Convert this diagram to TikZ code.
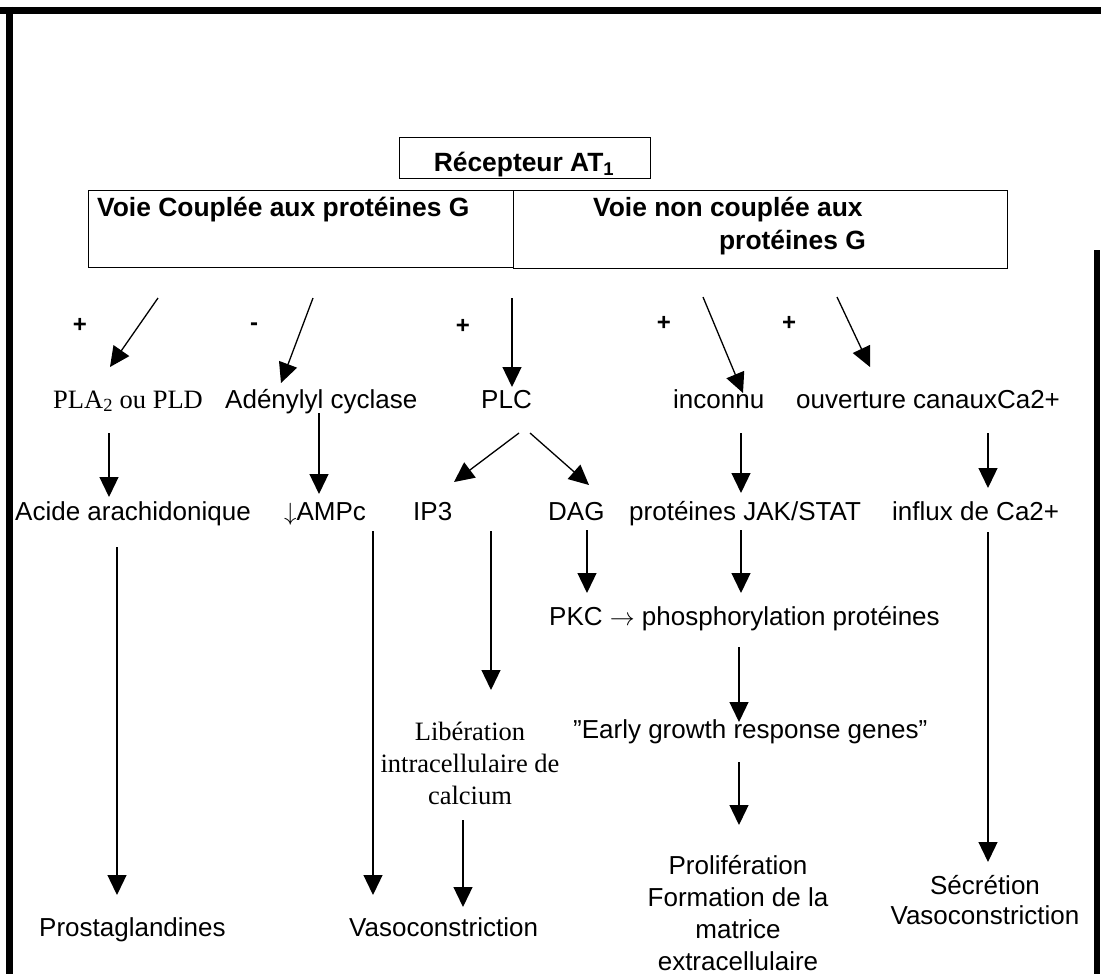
\documentclass[tikz,border=0pt]{standalone}
\usepackage{fontspec}
\setmainfont{Liberation Sans}
\newfontfamily\tnr{Liberation Serif}
\usetikzlibrary{arrows.meta}
\begin{document}
\begin{tikzpicture}[x=1pt,y=-1pt,
  txt/.style={inner sep=0pt, font=\fontsize{26}{32}\selectfont},
  btxt/.style={inner sep=0pt, font=\fontsize{26.4}{33}\selectfont\bfseries},
  sgn/.style={inner sep=0pt, font=\fontsize{24}{28}\selectfont\bfseries},
  ser/.style={inner sep=0pt, font=\tnr\fontsize{26.5}{32}\selectfont},
  arr/.style={line width=1.3pt, -{Triangle[length=20pt,width=19pt]}},
  boxnode/.style={draw, line width=1.4pt, inner sep=0pt, anchor=north west},
  frameline/.style={line width=6.5pt}]
\useasboundingbox (0,0) rectangle (1101,974);
% frame
\draw[frameline] (0,10.5) -- (1101,10.5);
\draw[frameline] (9.3,7) -- (9.3,974);
\draw[frameline] (1097,250) -- (1097,974);

% header boxes
\node[boxnode, minimum width=251pt, minimum height=41pt] (recbox) at (399,137) {};
\node[btxt, anchor=base] (rec) at (524,171) {Récepteur AT\textsubscript{1}};
\node[boxnode, minimum width=425pt, minimum height=77pt] (lbox) at (88,190) {};
\node[boxnode, minimum width=494pt, minimum height=78pt] (rbox) at (513,190) {};
\node[btxt, anchor=base west] (vc) at (97,216) {Voie Couplée aux protéines G};
\node[btxt, anchor=base west] (vnc1) at (593,216) {Voie non couplée aux};
\node[btxt, anchor=base east] (vnc2) at (866,249) {protéines G};

% signs
\node[sgn] (s1) at (80,325) {+};
\node[sgn] (s2) at (254,327) {-};
\node[sgn] (s3) at (463,326) {+};
\node[sgn] (s4) at (664,323) {+};
\node[sgn] (s5) at (789,323) {+};

% row 1
\node[ser, anchor=base west] (pla) at (53,408) {PLA\textsubscript{2} ou PLD};
\node[txt, anchor=base west] (ac) at (225,408) {Adénylyl cyclase};
\node[txt, anchor=base west] (plc) at (481,408) {PLC};
\node[txt, anchor=base west] (inc) at (673,408) {inconnu};
\node[txt, anchor=base west] (ouv) at (796,408) {ouverture canauxCa2+};

% row 2
\node[txt, anchor=base west] (acide) at (15,520) {Acide arachidonique};
\node[txt, anchor=base west] (ampc) at (284,520) {$\downarrow$AMPc};
\node[txt, anchor=base west] (ip3) at (413,520) {IP3};
\node[txt, anchor=base west] (dag) at (548,520) {DAG};
\node[txt, anchor=base west] (jak) at (629,520) {protéines JAK/STAT};
\node[txt, anchor=base west] (inf) at (892,520) {influx de Ca2+};

% row 3
\node[txt, anchor=base west] (pkc) at (549,625) {PKC $\rightarrow$ phosphorylation protéines};
\node[txt, anchor=base west] (egr) at (573,738) {''Early growth response genes''};
\node[ser, anchor=base, align=center] (lib) at (470,804) {Libération\\intracellulaire de\\calcium};

% bottom
\node[txt, anchor=base west] (prost) at (39,936) {Prostaglandines};
\node[txt, anchor=base west] (vaso) at (349,936) {Vasoconstriction};
\node[txt, anchor=base, align=center] (prol) at (738,970) {Prolifération\\Formation de la\\matrice\\extracellulaire};
\node[txt, anchor=base, align=center, font=\fontsize{26}{30}\selectfont] (secr) at (985,924) {Sécrétion\\Vasoconstriction};

% connector end points
\coordinate (a1s) at (158,298); \coordinate (a1e) at (110,367);
\coordinate (a2s) at (313,298); \coordinate (a2e) at (281,383);
\coordinate (a3s) at (512,298); \coordinate (a3e) at (512,387);
\coordinate (a4s) at (703,297); \coordinate (a4e) at (743,393);
\coordinate (a5s) at (837,297); \coordinate (a5e) at (870,367);

\coordinate (b1s) at (109,433); \coordinate (b1e) at (109,497);
\coordinate (b2s) at (319,413); \coordinate (b2e) at (319,494);
\coordinate (b3s) at (519,433); \coordinate (b3e) at (454,482);
\coordinate (b4s) at (530,433); \coordinate (b4e) at (589,485);
\coordinate (b5s) at (741,433); \coordinate (b5e) at (741,493);
\coordinate (b6s) at (988,433); \coordinate (b6e) at (988,488);

\coordinate (c1s) at (117,547); \coordinate (c1e) at (117,895);
\coordinate (c2s) at (373,531); \coordinate (c2e) at (373,895);
\coordinate (c3s) at (491,531); \coordinate (c3e) at (491,690);
\coordinate (c4s) at (587,530); \coordinate (c4e) at (587,593);
\coordinate (c5s) at (741,530); \coordinate (c5e) at (741,593);
\coordinate (c6s) at (988,532); \coordinate (c6e) at (988,862);

\coordinate (d1s) at (739,647); \coordinate (d1e) at (739,722);
\coordinate (d2s) at (739,762); \coordinate (d2e) at (739,825);
\coordinate (e1s) at (463,820); \coordinate (e1e) at (463,907);

\foreach \a in {a1,a2,a3,a4,a5,b1,b2,b3,b4,b5,b6,c1,c2,c3,c4,c5,c6,d1,d2,e1}
  \draw[arr] (\a s) -- (\a e);
\end{tikzpicture}
\end{document}
